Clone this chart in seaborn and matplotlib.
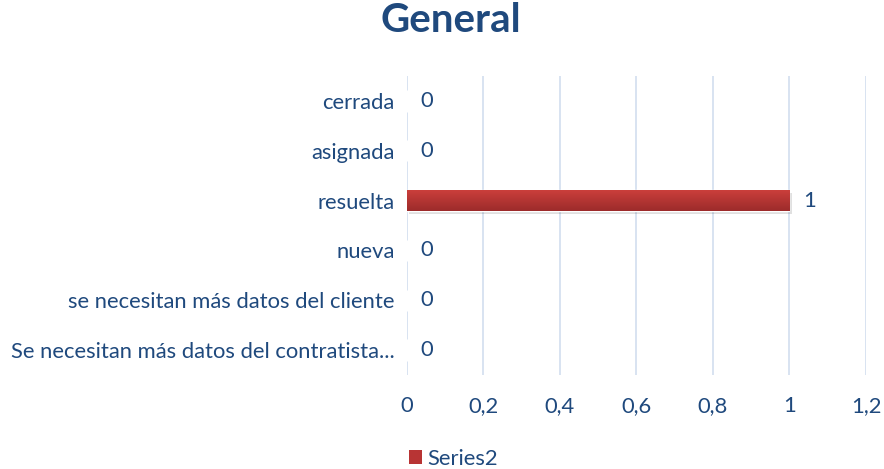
import numpy as np
import pandas as pd
import matplotlib
matplotlib.use("Agg")
import matplotlib.pyplot as plt
import seaborn as sns
from matplotlib.colors import LinearSegmentedColormap
from matplotlib.patches import Patch

categories = [
    "cerrada",
    "asignada",
    "resuelta",
    "nueva",
    "se necesitan más datos del cliente",
    "Se necesitan más datos del contratista...",
]
values = [0, 0, 1, 0, 0, 0]
xticks = [0, 0.2, 0.4, 0.6, 0.8, 1.0, 1.2]
xtick_labels = ["0", "0,2", "0,4", "0,6", "0,8", "1", "1,2"]
series_name = "Series2"
title = "General"

text_color = "#1F497D"
grid_color = "#D6E1F0"
bar_top = "#CD403C"
bar_bottom = "#9C2B2B"
fs = 15.8

sns.set_theme(style="white")
plt.rcParams["font.family"] = ["Lato", "DejaVu Sans"]

df = pd.DataFrame({"estado": categories, "valor": values})

fig = plt.figure(figsize=(8.84, 4.69), dpi=100)
ax = fig.add_axes([0.4604, 0.2004, 0.5192, 0.6376])

sns.barplot(data=df, y="estado", x="valor", orient="h", ax=ax,
            color=bar_top, width=0.43, saturation=1, zorder=3)

ax.set_xlim(0, 1.2)
ax.set_ylim(len(categories) - 0.5, -0.5)
ax.set_xticks(xticks)
ax.set_xticklabels(xtick_labels)
ax.set_xlabel("")
ax.set_ylabel("")
for s in ax.spines.values():
    s.set_visible(False)
ax.xaxis.grid(True, color=grid_color, linewidth=1.3, zorder=0)
ax.set_axisbelow(True)
ax.tick_params(axis="both", length=0, labelsize=fs, labelcolor=text_color)
ax.tick_params(axis="x", pad=15)
ax.tick_params(axis="y", pad=9)

# vertical gradient fill on the bars plus a soft shadow
cmap = LinearSegmentedColormap.from_list("bar", [bar_top, bar_bottom])
grad = np.linspace(0, 1, 256).reshape(-1, 1)
for patch in ax.patches:
    w = patch.get_width()
    if w <= 0:
        continue
    x0, y0 = patch.get_x(), patch.get_y()
    h = patch.get_height()
    shadow = matplotlib.patches.Rectangle((x0 + 0.006, y0 + 0.06), w, h,
                                          color="#000000", alpha=0.12,
                                          zorder=2, linewidth=0)
    ax.add_patch(shadow)
    im = ax.imshow(grad, cmap=cmap, aspect="auto",
                   extent=(x0, x0 + w, y0 + h, y0), zorder=4)
    im.set_clip_path(patch)
    patch.set_zorder(3)

# value labels
for i, v in enumerate(values):
    ax.text(v + 0.035, i, f"{v:g}", va="center", ha="left",
            fontsize=fs, color=text_color)

fig.suptitle(title, x=0.51, y=0.995, fontsize=29, fontweight="bold",
             color=text_color)

handles = [Patch(facecolor="#B83434", edgecolor="none", label=series_name)]
fig.legend(handles=handles, loc="center", bbox_to_anchor=(0.513, 0.022),
           frameon=False, fontsize=fs, labelcolor=text_color,
           handlelength=0.6, handleheight=0.6, handletextpad=0.25)

fig.savefig("out.png", dpi=100)
